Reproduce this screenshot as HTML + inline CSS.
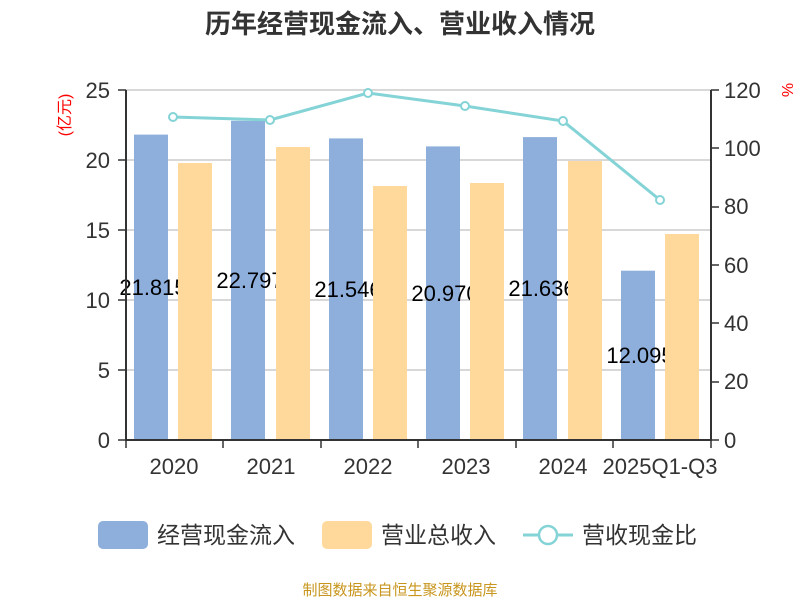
<!DOCTYPE html>
<html><head><meta charset="utf-8"><style>
body{margin:0;background:#fff;}
svg text{font-family:"Liberation Sans","Noto Sans CJK SC",sans-serif;}
</style></head><body>
<svg width="800" height="600" xmlns="http://www.w3.org/2000/svg">
<rect width="800" height="600" fill="#fff"/>
<text x="400" y="33" text-anchor="middle" font-size="26" font-weight="bold" fill="#333">历年经营现金流入、营业收入情况</text>
<g stroke="#ccc" stroke-width="1.5">
<line x1="126" x2="711" y1="90" y2="90"/><line x1="126" x2="711" y1="160" y2="160"/>
<line x1="126" x2="711" y1="230" y2="230"/><line x1="126" x2="711" y1="300" y2="300"/>
<line x1="126" x2="711" y1="370" y2="370"/>
</g>
<text transform="translate(70,115) rotate(-90)" text-anchor="middle" font-size="16" fill="#f00">(亿元)</text>
<text transform="translate(782,90) rotate(90)" text-anchor="middle" font-size="16" fill="#f00">%</text>
<g font-size="22" fill="#333" text-anchor="end">
<text x="110" y="98">25</text><text x="110" y="168">20</text><text x="110" y="238">15</text>
<text x="110" y="308">10</text><text x="110" y="378">5</text><text x="110" y="448">0</text>
</g>
<g font-size="22" fill="#333">
<text x="724" y="98">120</text><text x="724" y="156">100</text><text x="724" y="214">80</text>
<text x="724" y="273">60</text><text x="724" y="331">40</text><text x="724" y="389">20</text><text x="724" y="448">0</text>
</g>
<g fill="#8eaedb">
<rect x="134" y="134.6" width="34" height="305.4"/>
<rect x="231" y="120.8" width="34" height="319.2"/>
<rect x="329" y="138.4" width="34" height="301.6"/>
<rect x="426" y="146.4" width="34" height="293.6"/>
<rect x="523" y="137.1" width="34" height="302.9"/>
<rect x="621" y="270.7" width="34" height="169.3"/>
</g>
<g font-size="22" fill="#000" text-anchor="middle">
<text x="153" y="295">21.815</text>
<text x="250" y="288">22.797</text>
<text x="348" y="297">21.546</text>
<text x="445" y="301">20.970</text>
<text x="542" y="296">21.636</text>
<text x="640" y="363">12.095</text>
</g>
<g fill="#fed99b">
<rect x="178" y="163" width="34" height="277"/>
<rect x="276" y="147" width="34" height="293"/>
<rect x="373" y="186" width="34" height="254"/>
<rect x="470" y="183" width="34" height="257"/>
<rect x="568" y="161" width="34" height="279"/>
<rect x="665" y="234" width="34" height="206"/>
</g>
<g stroke="#333" stroke-width="2">
<line x1="126" x2="126" y1="90" y2="441"/><line x1="711" x2="711" y1="90" y2="441"/>
<line x1="125" x2="712" y1="440" y2="440"/>
</g>
<g stroke="#333" stroke-width="1.5">
<line x1="118" x2="126" y1="90" y2="90"/><line x1="118" x2="126" y1="160" y2="160"/><line x1="118" x2="126" y1="230" y2="230"/>
<line x1="118" x2="126" y1="300" y2="300"/><line x1="118" x2="126" y1="370" y2="370"/><line x1="118" x2="126" y1="440" y2="440"/>
<line x1="711" x2="719" y1="90" y2="90"/><line x1="711" x2="719" y1="148" y2="148"/><line x1="711" x2="719" y1="207" y2="207"/>
<line x1="711" x2="719" y1="265" y2="265"/><line x1="711" x2="719" y1="323" y2="323"/><line x1="711" x2="719" y1="382" y2="382"/><line x1="711" x2="719" y1="440" y2="440"/>
<line x1="126" x2="126" y1="440" y2="448"/><line x1="223" x2="223" y1="440" y2="448"/><line x1="321" x2="321" y1="440" y2="448"/>
<line x1="418" x2="418" y1="440" y2="448"/><line x1="516" x2="516" y1="440" y2="448"/><line x1="613" x2="613" y1="440" y2="448"/><line x1="711" x2="711" y1="440" y2="448"/>
</g>
<g font-size="22" fill="#333" text-anchor="middle">
<text x="174" y="474">2020</text><text x="271" y="474">2021</text><text x="368" y="474">2022</text>
<text x="466" y="474">2023</text><text x="563" y="474">2024</text><text x="660" y="474">2025Q1-Q3</text>
</g>
<polyline points="173,117 270,120 368,93 465,106 563,121 660,200" fill="none" stroke="#84d3d6" stroke-width="3"/>
<g fill="#fff" stroke="#84d3d6" stroke-width="2">
<circle cx="173" cy="117" r="4"/><circle cx="270" cy="120" r="4"/><circle cx="368" cy="93" r="4"/>
<circle cx="465" cy="106" r="4"/><circle cx="563" cy="121" r="4"/><circle cx="660" cy="200" r="4"/>
</g>
<rect x="98" y="521" width="50" height="28" rx="5" fill="#8eaedb"/>
<text x="157" y="543" font-size="23" fill="#333">经营现金流入</text>
<rect x="322" y="521" width="50" height="28" rx="5" fill="#fed99b"/>
<text x="381" y="543" font-size="23" fill="#333">营业总收入</text>
<line x1="523" x2="573" y1="535" y2="535" stroke="#84d3d6" stroke-width="3"/>
<circle cx="548" cy="535" r="9" fill="#fff" stroke="#84d3d6" stroke-width="2.5"/>
<text x="582" y="543" font-size="23" fill="#333">营收现金比</text>
<text x="400" y="595" text-anchor="middle" font-size="15" fill="#c8961e">制图数据来自恒生聚源数据库</text>
</svg>
</body></html>
